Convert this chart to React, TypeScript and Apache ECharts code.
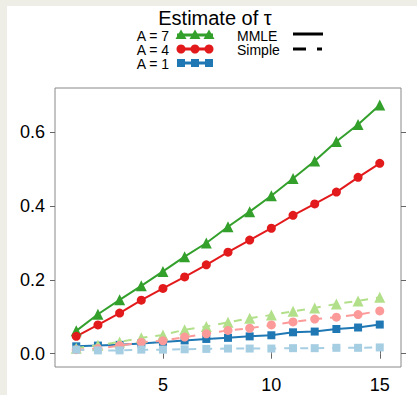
import React, { useEffect, useRef } from "react";
import * as echarts from "echarts";

const xValues = [1, 2, 3, 4, 5, 6, 7, 8, 9, 10, 11, 12, 13, 14, 15];
const mmleA7 = [0.062, 0.107, 0.146, 0.184, 0.223, 0.263, 0.3, 0.344, 0.385, 0.428, 0.475, 0.522, 0.575, 0.621, 0.674];
const mmleA4 = [0.047, 0.078, 0.11, 0.145, 0.177, 0.208, 0.241, 0.275, 0.308, 0.34, 0.375, 0.406, 0.438, 0.478, 0.516];
const mmleA1 = [0.02, 0.022, 0.024, 0.028, 0.032, 0.036, 0.04, 0.043, 0.047, 0.05, 0.058, 0.06, 0.067, 0.071, 0.079];
const simpleA7 = [0.015, 0.023, 0.032, 0.043, 0.051, 0.065, 0.074, 0.085, 0.096, 0.105, 0.115, 0.124, 0.135, 0.143, 0.153];
const simpleA4 = [0.011, 0.014, 0.022, 0.031, 0.035, 0.045, 0.054, 0.063, 0.069, 0.078, 0.086, 0.094, 0.099, 0.106, 0.116];
const simpleA1 = [0.011, 0.009, 0.009, 0.011, 0.011, 0.012, 0.013, 0.014, 0.014, 0.014, 0.015, 0.015, 0.016, 0.016, 0.017];
const xTicks = [5, 10, 15];
const yTicks = [0, 0.2, 0.4, 0.6];
const groupLabels = ["A = 7", "A = 4", "A = 1"];
const methodLabels = ["MMLE", "Simple"];
const titleText = "Estimate of \u03c4";

const DARK = ["#33a02c", "#e31a1c", "#1f78b4"];
const LIGHT = ["#b2df8a", "#fb9a99", "#a6cee3"];
const SYMBOLS = ["triangle", "circle", "rect"];
const SYMBOL_SIZES = [11, 9, 8];
const FONT = "Liberation Sans, Arial, Helvetica, sans-serif";

function pairs(arr: number[]) {
  return xValues.map((x, i) => [x, arr[i]]);
}

function legendMarker(kind: number, cx: number, cy: number, color: string) {
  if (kind === 0) {
    return {
      type: "polygon",
      shape: { points: [[cx, cy - 5.5], [cx - 5.5, cy + 4], [cx + 5.5, cy + 4]] },
      style: { fill: color },
      z: 101,
    };
  }
  if (kind === 1) {
    return { type: "circle", shape: { cx, cy, r: 4.5 }, style: { fill: color }, z: 101 };
  }
  return { type: "rect", shape: { x: cx - 4, y: cy - 4, width: 8, height: 8 }, style: { fill: color }, z: 101 };
}

export default function App() {
  const ref = useRef<HTMLDivElement>(null);
  useEffect(() => {
    document.body.style.margin = "0";
    if (!ref.current) return;
    const chart = echarts.init(ref.current, null, { renderer: "svg" });

    const mmle = [mmleA7, mmleA4, mmleA1];
    const simple = [simpleA7, simpleA4, simpleA1];
    const series: any[] = [];
    mmle.forEach((arr, k) => {
      series.push({
        type: "line",
        name: "MMLE " + groupLabels[k],
        data: pairs(arr),
        symbol: SYMBOLS[k],
        symbolSize: SYMBOL_SIZES[k],
        showSymbol: true,
        lineStyle: { color: DARK[k], width: 2 },
        itemStyle: { color: DARK[k] },
        z: 3,
      });
    });
    simple.forEach((arr, k) => {
      series.push({
        type: "line",
        name: "Simple " + groupLabels[k],
        data: pairs(arr),
        symbol: SYMBOLS[k],
        symbolSize: SYMBOL_SIZES[k],
        showSymbol: true,
        lineStyle: { color: LIGHT[k], width: 2, type: [8, 8] },
        itemStyle: { color: LIGHT[k] },
        z: 4,
      });
    });

    const graphics: any[] = [
      { type: "rect", shape: { x: 0, y: 0, width: 417, height: 6 }, style: { fill: "#eeede6" }, z: 100 },
      { type: "rect", shape: { x: 0, y: 0, width: 7, height: 395 }, style: { fill: "#eeede6" }, z: 100 },
      {
        type: "text",
        x: 215,
        y: 17.5,
        style: { text: titleText, fontSize: 20, fontFamily: FONT, fill: "#000", align: "center", verticalAlign: "middle", lineHeight: 18 },
        z: 101,
      },
    ];
    const rowsY = [35.5, 49.5, 63.5];
    groupLabels.forEach((lab, k) => {
      const y = rowsY[k];
      graphics.push({
        type: "text",
        x: 169,
        y,
        style: { text: lab, fontSize: 14, fontFamily: FONT, fill: "#000", align: "right", verticalAlign: "middle", lineHeight: 13 },
        z: 101,
      });
      graphics.push({
        type: "line",
        shape: { x1: 177, y1: y - 0.5, x2: 213, y2: y - 0.5 },
        style: { stroke: DARK[k], lineWidth: 3 },
        z: 101,
      });
      [181, 195, 209].forEach((cx) => graphics.push(legendMarker(k, cx, y - 0.5, DARK[k])));
    });
    methodLabels.forEach((lab, k) => {
      const y = rowsY[k];
      graphics.push({
        type: "text",
        x: 237,
        y,
        style: { text: lab, fontSize: 14, fontFamily: FONT, fill: "#000", align: "left", verticalAlign: "middle", lineHeight: 13 },
        z: 101,
      });
    });
    graphics.push({ type: "line", shape: { x1: 293, y1: 34, x2: 323, y2: 34 }, style: { stroke: "#000", lineWidth: 3 }, z: 101 });
    graphics.push({ type: "line", shape: { x1: 293, y1: 49, x2: 306, y2: 49 }, style: { stroke: "#000", lineWidth: 3 }, z: 101 });
    graphics.push({ type: "line", shape: { x1: 317, y1: 49, x2: 322, y2: 49 }, style: { stroke: "#000", lineWidth: 3 }, z: 101 });

    const tickStyle = { color: "#666", width: 1 };
    const common = {
      type: "value",
      splitLine: { show: false },
      axisLine: { show: false },
    };

    chart.setOption({
      animation: false,
      backgroundColor: "#ffffff",
      grid: {
        left: 55,
        top: 88,
        width: 346,
        height: 279,
        show: true,
        borderColor: "#888",
        borderWidth: 1,
        backgroundColor: "#fff",
      },
      xAxis: [
        {
          ...common,
          position: "bottom",
          min: 0.02,
          max: 15.98,
          axisTick: { show: true, length: 5, customValues: xTicks, lineStyle: tickStyle },
          axisLabel: { customValues: xTicks, fontSize: 18, fontFamily: FONT, color: "#000", margin: 9 },
        },
        {
          ...common,
          position: "top",
          min: 0.02,
          max: 15.98,
          axisTick: { show: true, length: 5, customValues: xTicks, lineStyle: tickStyle },
          axisLabel: { show: false },
        },
      ],
      yAxis: [
        {
          ...common,
          position: "left",
          min: -0.036,
          max: 0.72,
          axisTick: { show: true, length: 5, customValues: yTicks, lineStyle: tickStyle },
          axisLabel: {
            customValues: yTicks,
            fontSize: 18,
            fontFamily: FONT,
            color: "#000",
            margin: 10,
            formatter: (v: number) => v.toFixed(1),
          },
        },
        {
          ...common,
          position: "right",
          min: -0.036,
          max: 0.72,
          axisTick: { show: true, length: 5, customValues: yTicks, lineStyle: tickStyle },
          axisLabel: { show: false },
        },
      ],
      graphic: graphics,
      series,
    });
    return () => chart.dispose();
  }, []);
  return <div ref={ref} style={{ width: 417, height: 395 }} />;
}
